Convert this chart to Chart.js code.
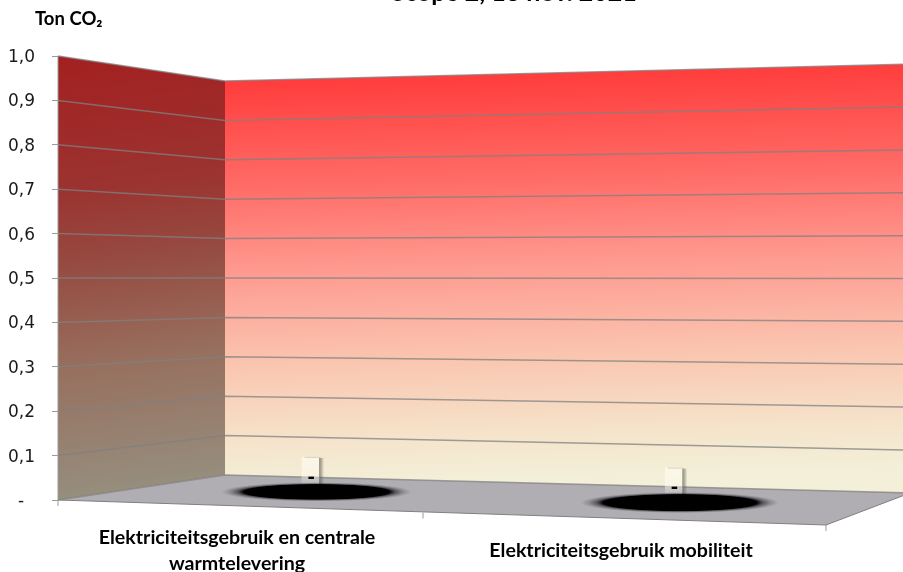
<!DOCTYPE html>
<html>
<head>
<meta charset="utf-8">
<style>html,body{margin:0;padding:0;background:#fff;overflow:hidden}canvas{display:block}</style>
<script src="https://cdn.jsdelivr.net/npm/chart.js@4"></script>
</head>
<body>
<canvas id="c" width="903" height="572"></canvas>
<script>
const categories = [["Elektriciteitsgebruik en centrale", "warmtelevering"], "Elektriciteitsgebruik mobiliteit"];
const seriesValues = [0, 0];
const yMin = 0, yMax = 1, yStep = 0.1;
const chartTitle = "Scope 2, 13 nov. 2021";
const yAxisTitle = "Ton CO\u2082";

const fmt = v => Math.abs(v) < 1e-9 ? "-" : v.toFixed(1).replace(".", ",");

const perspective = {
  id: "perspective",
  beforeDraw(chart) {
    // nudge the y tick labels down a little, as in the reference's font
    const y = chart.scales.y;
    y.getLabelItems().forEach(it => {
      if (!it._nudged) { it.options.translation[1] += 1.5; it._nudged = true; }
    });
  },
  beforeDatasetsDraw(chart) {
    const { ctx, chartArea: a, scales: { x, y } } = chart;
    const W = a.right - a.left;
    const backL = 225, backR = 910;
    const yBackL = v => 81 + (y.getPixelForValue(v) - a.top) * (394 / (a.bottom - a.top));
    const yBackR = v => 64 + (y.getPixelForValue(v) - a.top) * (429 / (a.bottom - a.top));
    const ticks = y.ticks.map(t => t.value);

    // left wall
    let g = ctx.createLinearGradient(a.left, a.top, a.left + 60, a.bottom);
    g.addColorStop(0, "#a32020");
    g.addColorStop(0.3, "#9b3330");
    g.addColorStop(0.45, "#96483f");
    g.addColorStop(0.7, "#97705f");
    g.addColorStop(1, "#969080");
    ctx.fillStyle = g;
    ctx.beginPath();
    ctx.moveTo(a.left, y.getPixelForValue(yMax));
    ctx.lineTo(backL, yBackL(yMax));
    ctx.lineTo(backL, yBackL(yMin));
    ctx.lineTo(a.left, y.getPixelForValue(yMin));
    ctx.closePath();
    ctx.fill();

    // back wall
    g = ctx.createLinearGradient(0, 66, 12, 492);
    g.addColorStop(0, "#ff3333");
    g.addColorStop(0.3, "#ff6c67");
    g.addColorStop(0.5, "#fe9a90");
    g.addColorStop(0.72, "#fac6b0");
    g.addColorStop(0.9, "#f5e4cb");
    g.addColorStop(1, "#f3efd8");
    ctx.fillStyle = g;
    ctx.beginPath();
    ctx.moveTo(backL, yBackL(yMax));
    ctx.lineTo(backR, yBackR(yMax));
    ctx.lineTo(backR, yBackR(yMin));
    ctx.lineTo(backL, yBackL(yMin));
    ctx.closePath();
    ctx.fill();

    // floor
    const fr = a.right, fry = y.getPixelForValue(yMin) + 25;
    ctx.fillStyle = "#b0adb3";
    ctx.beginPath();
    ctx.moveTo(a.left, a.bottom);
    ctx.lineTo(backL, yBackL(yMin));
    ctx.lineTo(backR, yBackR(yMin));
    ctx.lineTo(fr, fry);
    ctx.closePath();
    ctx.fill();
    ctx.strokeStyle = "#808080";
    ctx.lineWidth = 1;
    ctx.beginPath();
    ctx.moveTo(a.left, a.bottom);
    ctx.lineTo(fr, fry);
    ctx.lineTo(backR, yBackR(yMin));
    ctx.stroke();

    // grid lines
    ctx.strokeStyle = "rgba(128,128,128,0.75)";
    ctx.lineWidth = 1.5;
    ticks.forEach(v => {
      ctx.beginPath();
      ctx.moveTo(a.left, y.getPixelForValue(v));
      ctx.lineTo(backL, yBackL(v));
      ctx.lineTo(backR, yBackR(v));
      ctx.stroke();
    });
    ctx.beginPath();
    ctx.moveTo(a.left, a.top);
    ctx.lineTo(a.left, a.bottom);
    ctx.strokeStyle = "#9a9a9a";
    ctx.lineWidth = 1;
    ctx.stroke();

    // category ticks along the slanted, foreshortened front edge
    ctx.strokeStyle = "#9a9a9a";
    ctx.lineWidth = 1;
    for (let i = 0; i <= categories.length; i++) {
      const u = i / categories.length;
      const px = a.left + (0.901 * u + 0.099 * u * u) * W;
      const py = a.bottom + u * 25;
      ctx.beginPath();
      ctx.moveTo(px, py);
      ctx.lineTo(px, py + 6);
      ctx.stroke();
    }

    // zero-height columns lying on the floor
    const meta = chart.getDatasetMeta(0);
    meta.data.forEach((bar, i) => {
      const u = (bar.x - a.left) / W;
      const fx = bar.x, fy = a.bottom + u * 25;
      const bx = backL + u * (backR - backL), by = yBackL(yMin) + u * (yBackR(yMin) - yBackL(yMin));
      const cx = (fx + bx) / 2 - 6.5, cy = (fy + by) / 2 - 1;
      const rx = 73 + 8 * u, ry = 5.2 + 1.6 * u;

      // label box
      const boxTop = cy - 35, boxL = cx - 15, boxR = cx + 3.5;
      const bg = ctx.createLinearGradient(0, boxTop, 0, cy - 5);
      bg.addColorStop(0, "rgba(255,252,240,0.7)");
      bg.addColorStop(0.6, "rgba(255,252,240,0.5)");
      bg.addColorStop(1, "rgba(200,196,200,0.25)");
      ctx.fillStyle = bg;
      ctx.fillRect(boxL, boxTop, boxR - boxL, cy - 5 - boxTop);
      const sh = ctx.createLinearGradient(boxR - 1, 0, boxR + 4, 0);
      sh.addColorStop(0, "rgba(90,85,75,0.7)");
      sh.addColorStop(1, "rgba(90,85,75,0)");
      ctx.fillStyle = sh;
      ctx.fillRect(boxR - 1, boxTop + 1, 5, cy - 5 - boxTop);
      ctx.fillStyle = "rgba(150,145,135,0.35)";
      ctx.fillRect(boxL + 3, boxTop, boxR - boxL - 3, 1);

      // shadow halo + ellipse
      ctx.save();
      ctx.translate(cx, cy);
      ctx.scale(1, (ry + 4) / (rx + 20));
      const rg = ctx.createRadialGradient(0, 0, 0, 0, 0, rx + 20);
      const s = rx / (rx + 20);
      rg.addColorStop(0, "rgba(0,0,0,1)");
      rg.addColorStop(s * 0.97, "rgba(0,0,0,1)");
      rg.addColorStop(s + (1 - s) * 0.2, "rgba(0,0,0,0.5)");
      rg.addColorStop(s + (1 - s) * 0.6, "rgba(0,0,0,0.18)");
      rg.addColorStop(1, "rgba(0,0,0,0)");
      ctx.fillStyle = rg;
      ctx.beginPath();
      ctx.arc(0, 0, rx + 20, 0, Math.PI * 2);
      ctx.fill();
      ctx.restore();

      // value label
      ctx.fillStyle = "#000";
      ctx.font = "900 21px Lato";
      ctx.textAlign = "center";
      ctx.textBaseline = "middle";
      ctx.fillText(fmt(seriesValues[i]), cx - 5.5, cy - 15);
    });
  },
  afterDraw(chart) {
    const { ctx } = chart;
    ctx.fillStyle = "#000";
    ctx.textBaseline = "alphabetic";
    ctx.textAlign = "center";
    ctx.font = "bold 25px Lato";
    ctx.fillText(chartTitle, 514, 1);
    ctx.textAlign = "left";
    ctx.font = "bold 18.5px Lato";
    ctx.fillText(yAxisTitle, 35, 25);
  }
};

new Chart(document.getElementById("c"), {
  type: "bar",
  data: {
    labels: categories,
    datasets: [{ label: "Ton CO2", data: seriesValues, backgroundColor: "#000", borderWidth: 0 }]
  },
  plugins: [perspective],
  options: {
    responsive: false,
    animation: false,
    devicePixelRatio: 1,
    layout: { padding: { top: 56, right: 77, left: 0, bottom: 0 } },
    plugins: { legend: { display: false }, title: { display: false }, tooltip: { enabled: false } },
    scales: {
      x: {
        afterFit(s) { s.height = 72; },
        grid: { display: false },
        border: { display: false },
        ticks: {
          maxRotation: 0, minRotation: 0, autoSkip: false,
          crossAlign: "center", padding: 30, labelOffset: -13,
          color: "#000",
          font: { family: "Lato", size: 19.6, weight: "bold", lineHeight: 1.33 }
        }
      },
      y: {
        min: yMin, max: yMax,
        afterFit(s) { s.width = 58; },
        grid: { drawOnChartArea: false, drawTicks: true, tickLength: 6, color: "#9a9a9a" },
        border: { display: false },
        ticks: {
          stepSize: yStep,
          padding: 17,
          color: "#1a1a1a",
          font: { family: "DejaVu Sans", size: 17 },
          callback: v => Math.abs(v) < 1e-9 ? "-  " : fmt(v)
        }
      }
    }
  }
});
</script>
</body>
</html>
